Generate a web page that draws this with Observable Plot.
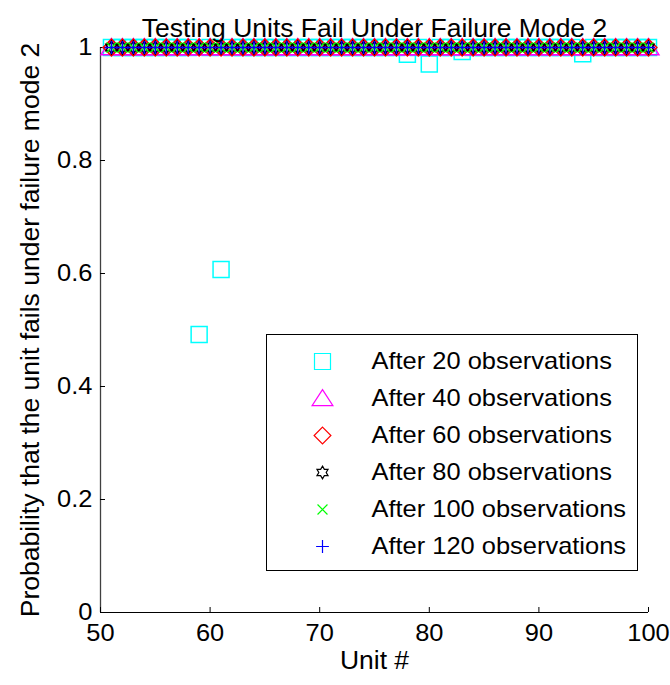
<!DOCTYPE html>
<html>
<head>
<meta charset="utf-8">
<script src="https://cdn.jsdelivr.net/npm/d3@7"></script>
<script src="https://cdn.jsdelivr.net/npm/@observablehq/plot@0.6"></script>
<style>
  html, body { margin: 0; padding: 0; background: #fff; }
  #chart { position: relative; width: 670px; height: 685px; font-family: "Liberation Sans", Arial, sans-serif; }
  #legend { position: absolute; left: 266px; top: 334px; width: 372px; height: 237px; box-sizing: border-box;
            border: 1px solid #000; background: #fff; }
  #legend svg, #chart svg { display: block; }
</style>
</head>
<body>
<div id="chart"><div id="legend"></div></div>
<script>
// Unit numbers on the x axis
const units = [51, 52, 53, 54, 55, 56, 57, 58, 59, 60,
               61, 62, 63, 64, 65, 66, 67, 68, 69, 70,
               71, 72, 73, 74, 75, 76, 77, 78, 79, 80,
               81, 82, 83, 84, 85, 86, 87, 88, 89, 90,
               91, 92, 93, 94, 95, 96, 97, 98, 99, 100];

// Probability that each unit fails under failure mode 2, after N observations
const after20 = [1, 1, 1, 1, 1, 1, 1, 1, 0.492, 1,
                 0.607, 1, 1, 1, 1, 1, 1, 1, 1, 1,
                 1, 1, 1, 1, 1, 1, 1, 0.988, 1, 0.971,
                 1, 1, 0.993, 1, 1, 1, 1, 1, 1, 1,
                 1, 1, 1, 0.989, 1, 1, 1, 1, 1, 1];
const after40 = [1, 1, 1, 1, 1, 1, 1, 1, 1, 1,
                 1, 1, 1, 1, 1, 1, 1, 1, 1, 1,
                 1, 1, 1, 1, 1, 1, 1, 1, 1, 1,
                 1, 1, 1, 1, 1, 1, 1, 1, 1, 1,
                 1, 1, 1, 1, 1, 1, 1, 1, 1, 1];
const after60 = [1, 1, 1, 1, 1, 1, 1, 1, 1, 1,
                 1, 1, 1, 1, 1, 1, 1, 1, 1, 1,
                 1, 1, 1, 1, 1, 1, 1, 1, 1, 1,
                 1, 1, 1, 1, 1, 1, 1, 1, 1, 1,
                 1, 1, 1, 1, 1, 1, 1, 1, 1, 1];
const after80 = [1, 1, 1, 1, 1, 1, 1, 1, 1, 1,
                 1, 1, 1, 1, 1, 1, 1, 1, 1, 1,
                 1, 1, 1, 1, 1, 1, 1, 1, 1, 1,
                 1, 1, 1, 1, 1, 1, 1, 1, 1, 1,
                 1, 1, 1, 1, 1, 1, 1, 1, 1, 1];
const after100 = [1, 1, 1, 1, 1, 1, 1, 1, 1, 1,
                  1, 1, 1, 1, 1, 1, 1, 1, 1, 1,
                  1, 1, 1, 1, 1, 1, 1, 1, 1, 1,
                  1, 1, 1, 1, 1, 1, 1, 1, 1, 1,
                  1, 1, 1, 1, 1, 1, 1, 1, 1, 1];
const after120 = [1, 1, 1, 1, 1, 1, 1, 1, 1, 1,
                  1, 1, 1, 1, 1, 1, 1, 1, 1, 1,
                  1, 1, 1, 1, 1, 1, 1, 1, 1, 1,
                  1, 1, 1, 1, 1, 1, 1, 1, 1, 1,
                  1, 1, 1, 1, 1, 1, 1, 1, 1, 1];

const seriesLabels = ["After 20 observations", "After 40 observations", "After 60 observations",
                      "After 80 observations", "After 100 observations", "After 120 observations"];
const seriesColors = ["#00FFFF", "#FF00FF", "#FF0000", "#000000", "#00FF00", "#0000FF"];

const xDomain = [50, 100];
const yDomain = [0, 1];
const xTicks = [50, 60, 70, 80, 90, 100];
const yTicks = [0, 0.2, 0.4, 0.6, 0.8, 1];

const titleText = "Testing Units Fail Under Failure Mode 2";
const xLabel = "Unit #";
const yLabel = "Probability that the unit fails under failure mode 2";

// Outline marker shapes; r = sqrt(size / PI) is the radius passed to Plot.dot
const radiusOf = size => Math.sqrt(size / Math.PI);
const squareSym = { draw(c, size) { const r = radiusOf(size); c.rect(-r, -r, 2 * r, 2 * r); } };
const triangleSym = { draw(c, size) {
  const r = radiusOf(size);
  c.moveTo(0, -1.1 * r); c.lineTo(1.3 * r, 0.9 * r); c.lineTo(-1.3 * r, 0.9 * r); c.closePath();
} };
const diamondSym = { draw(c, size) {
  const r = radiusOf(size) * 1.05;
  c.moveTo(0, -r); c.lineTo(r, 0); c.lineTo(0, r); c.lineTo(-r, 0); c.closePath();
} };
const hexagramSym = { draw(c, size) {
  const R = radiusOf(size) * 0.8, ri = R / Math.sqrt(3);
  for (let k = 0; k < 12; ++k) {
    const a = -Math.PI / 2 + k * Math.PI / 6, rr = k % 2 ? ri : R;
    const px = rr * Math.cos(a), py = rr * Math.sin(a);
    k ? c.lineTo(px, py) : c.moveTo(px, py);
  }
  c.closePath();
} };
const timesSym = { draw(c, size) {
  const s = radiusOf(size) * 0.62;
  c.moveTo(-s, -s); c.lineTo(s, s); c.moveTo(-s, s); c.lineTo(s, -s);
} };
const plusSym = { draw(c, size) {
  const s = radiusOf(size) * 0.8;
  c.moveTo(-s, 0); c.lineTo(s, 0); c.moveTo(0, -s); c.lineTo(0, s);
} };

const seriesValues = [after20, after40, after60, after80, after100, after120];
const seriesSymbols = [squareSym, triangleSym, diamondSym, hexagramSym, timesSym, plusSym];
const seriesTable = seriesLabels.map((label, i) => ({
  label, values: seriesValues[i], color: seriesColors[i], symbol: seriesSymbols[i]
}));

const markerR = 8;

const chart = Plot.plot({
  width: 670,
  height: 685,
  marginLeft: 100,
  marginRight: 22,
  marginTop: 47,
  marginBottom: 73,
  style: { fontFamily: "'Liberation Sans', Arial, sans-serif", background: "transparent", color: "#000" },
  x: { domain: xDomain },
  y: { domain: yDomain },
  marks: [
    // axis lines (box off: left and bottom only)
    Plot.ruleX([xDomain[0]], { stroke: "#404040", strokeWidth: 1.3 }),
    Plot.ruleY([yDomain[0]], { stroke: "#000", strokeWidth: 1 }),
    // inward tick marks
    Plot.axisX(xTicks, { tickSize: -5, tickFormat: () => "", label: null, stroke: "#000" }),
    Plot.axisY(yTicks, { tickSize: -5, tickFormat: () => "", label: null, stroke: "#000" }),
    // tick labels
    Plot.axisX(xTicks, { tickSize: 0, tickPadding: 11, tickFormat: d => String(d), label: null, fontSize: 24, fill: "#000" }),
    Plot.axisY(yTicks, { tickSize: 0, tickPadding: 8, tickFormat: d => String(d), label: null, fontSize: 24, fill: "#000" }),
    // series markers
    ...seriesTable.map(s => Plot.dot(units, {
      x: d => d,
      y: (d, i) => s.values[i],
      symbol: s.symbol,
      r: markerR,
      fill: "none",
      stroke: s.color,
      strokeWidth: 1.5
    })),
    // title and axis labels
    Plot.text([titleText], { frameAnchor: "top", dy: -28, fontSize: 25, fill: "#000" }),
    Plot.text([xLabel], { frameAnchor: "bottom", dy: 56, fontSize: 25, fill: "#000" }),
    Plot.text([yLabel], { frameAnchor: "left", textAnchor: "middle", dx: -70, rotate: -90, fontSize: 25, fill: "#000" })
  ]
});

const legend = Plot.plot({
  width: 370,
  height: 235,
  margin: 0,
  marginTop: 25,
  marginBottom: 23,
  style: { fontFamily: "'Liberation Sans', Arial, sans-serif", background: "transparent", color: "#000" },
  x: { domain: [0, 1], axis: null },
  y: { type: "point", domain: seriesLabels, padding: 0, axis: null },
  marks: [
    ...seriesTable.map(s => Plot.dot([s], {
      frameAnchor: "left", dx: 55, y: "label",
      symbol: s.symbol, r: markerR, fill: "none", stroke: s.color, strokeWidth: 1.2
    })),
    Plot.text(seriesTable, {
      frameAnchor: "left", dx: 104, y: "label", text: "label",
      textAnchor: "start", fontSize: 24, fill: "#000"
    })
  ]
});

const host = document.getElementById("chart");
host.insertBefore(chart, host.firstChild);
document.getElementById("legend").appendChild(legend);

// Widen the lettering slightly to the figure's stretched sans-serif proportions
for (const t of host.querySelectorAll("text")) {
  if (!t.textContent) continue;
  const len = t.getComputedTextLength();
  if (len > 0) {
    t.setAttribute("textLength", (len * 1.06).toFixed(1));
    t.setAttribute("lengthAdjust", "spacingAndGlyphs");
  }
}
</script>
</body>
</html>
